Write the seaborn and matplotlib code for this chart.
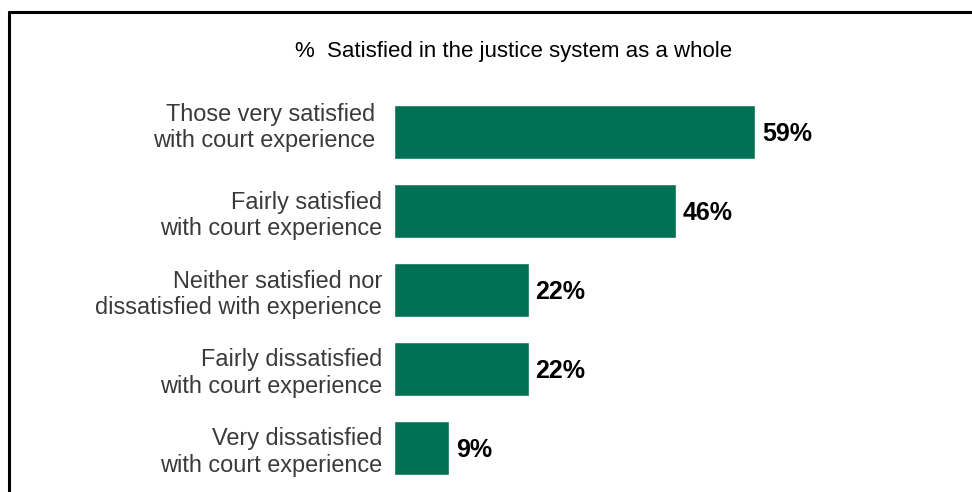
import matplotlib
matplotlib.use("Agg")
import matplotlib.pyplot as plt
from matplotlib.lines import Line2D
from matplotlib.transforms import ScaledTranslation
import seaborn as sns
import pandas as pd

categories = [
    "Those very satisfied \nwith court experience ",
    "Fairly satisfied\nwith court experience",
    "Neither satisfied nor\ndissatisfied with experience",
    "Fairly dissatisfied\nwith court experience",
    "Very dissatisfied\nwith court experience",
]
values = [59, 46, 22, 22, 9]
title = "%  Satisfied in the justice system as a whole"

df = pd.DataFrame({"group": categories, "pct": values})

sns.set_theme(style="white")
plt.rcParams["font.family"] = ["Liberation Sans", "DejaVu Sans"]

W, H = 972, 492
fig = plt.figure(figsize=(W / 100, H / 100), dpi=100)
fig.patch.set_facecolor("white")

# axes placed in pixel terms
ax_left, ax_right, ax_top, ax_bottom = 394, 968, 92, 492
ax = fig.add_axes([ax_left / W, 1 - ax_bottom / H,
                   (ax_right - ax_left) / W, (ax_bottom - ax_top) / H])

sns.barplot(data=df, x="pct", y="group", orient="h", color="#006F54",
            saturation=1, width=0.684, ax=ax)

px_per_unit = 6.12
ax.set_xlim(0, (ax_right - ax_left) / px_per_unit)
pitch = 79
first_center = 132
ax.set_ylim((ax_bottom - first_center) / pitch, -(first_center - ax_top) / pitch)

# value labels, nudged slightly below the bar centre
nudge = ScaledTranslation(0, -2 / 100, fig.dpi_scale_trans)
for i, v in enumerate(values):
    ax.text(v + 1.1, i, f"{v}%", va="center", ha="left",
            fontsize=18, fontweight="bold", color="black",
            transform=ax.transData + nudge)

ax.set_xlabel("")
ax.set_ylabel("")
ax.set_xticks([])
ax.tick_params(axis="y", length=0, pad=8.6, labelsize=16.9, labelcolor="#3a3a3a")
for lbl in ax.get_yticklabels():
    lbl.set_linespacing(1.22)
    lbl.set_ha("right")
# the top label sits a little higher than its bar
top_lbl = ax.get_yticklabels()[0]
top_lbl.set_transform(top_lbl.get_transform()
                      + ScaledTranslation(0, 9 / 100, fig.dpi_scale_trans))
for s in ax.spines.values():
    s.set_visible(False)

fig.text(513.5 / W, 1 - 52 / H, title, ha="center", va="center",
         fontsize=16, color="black")

# frame lines along the top and left edges
fig.add_artist(Line2D([9 / W, 1.0], [1 - 12 / H, 1 - 12 / H],
                      transform=fig.transFigure, color="black", linewidth=2.2))
fig.add_artist(Line2D([9 / W, 9 / W], [0.0, 1 - 12 / H],
                      transform=fig.transFigure, color="black", linewidth=2.2))

fig.savefig("out.png", dpi=100, facecolor="white")
